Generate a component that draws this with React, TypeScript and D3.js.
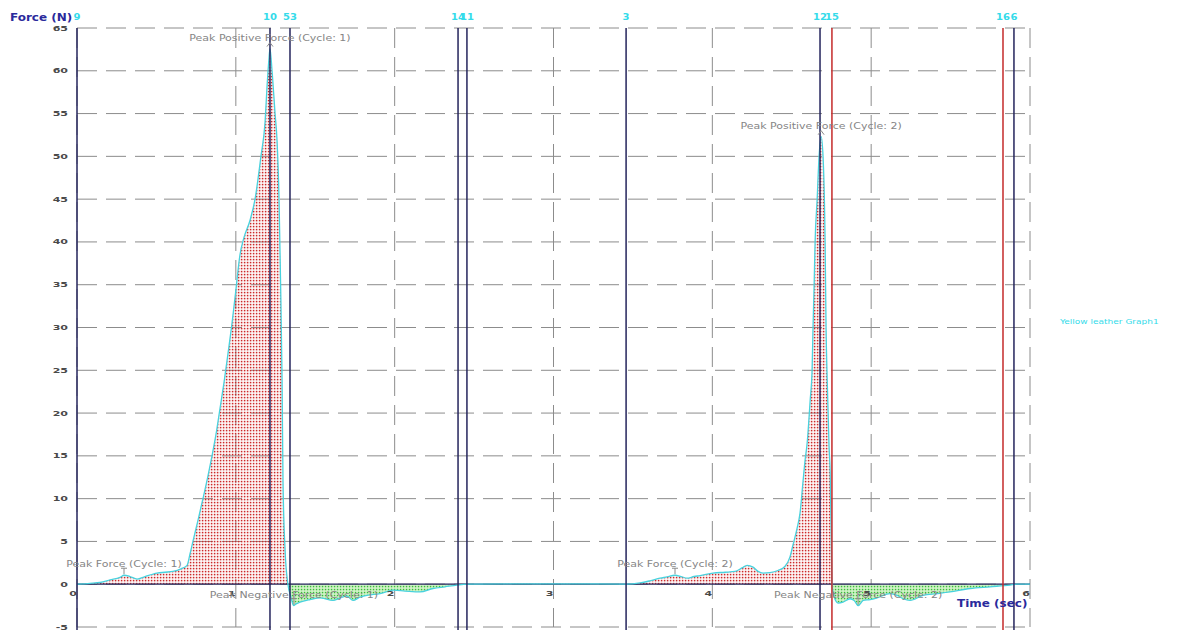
import React from "react";
import * as d3 from "d3";

// Force trace sampled over two loading cycles
const timeSec = [
  0.0, 0.082, 0.145, 0.208, 0.271, 0.296, 0.334, 0.378, 0.428, 0.504, 0.554, 0.604, 0.655, 0.693,
  0.711, 0.73, 0.762, 0.793, 0.825, 0.85, 0.875, 0.9, 0.925, 0.951, 0.976, 1.001, 1.026, 1.051,
  1.089, 1.121, 1.158, 1.184, 1.196, 1.209, 1.215, 1.228, 1.247, 1.259, 1.272, 1.281, 1.291, 1.297,
  1.31, 1.328, 1.347, 1.36, 1.366, 1.379, 1.404, 1.467, 1.53, 1.612, 1.656, 1.7, 1.738, 1.782,
  1.826, 1.908, 1.99, 2.065, 2.16, 2.241, 2.317, 2.392, 2.474, 2.8, 3.1, 3.457, 3.545, 3.608,
  3.671, 3.715, 3.765, 3.803, 3.841, 3.885, 3.923, 4.004, 4.08, 4.143, 4.187, 4.219, 4.256, 4.288,
  4.319, 4.363, 4.413, 4.458, 4.489, 4.508, 4.533, 4.552, 4.571, 4.584, 4.597, 4.616, 4.628, 4.634,
  4.641, 4.647, 4.66, 4.672, 4.685, 4.697, 4.71, 4.716, 4.723, 4.735, 4.742, 4.748, 4.754, 4.767,
  4.792, 4.823, 4.867, 4.893, 4.918, 4.95, 4.994, 5.037, 5.119, 5.163, 5.201, 5.245, 5.327, 5.415,
  5.496, 5.622, 5.748, 5.874, 5.918, 6.0,
];
const forceN = [
  0.0, 0.1, 0.2, 0.5, 0.8, 1.05, 0.9, 0.6, 0.9, 1.3, 1.4, 1.5, 1.8, 2.2,
  3.5, 5.0, 7.5, 10.0, 12.7, 15.0, 17.5, 20.5, 23.5, 27.0, 30.5, 34.5, 38.5, 40.5,
  42.5, 45.0, 50.0, 54.0, 58.0, 61.5, 62.6, 60.0, 55.0, 52.0, 45.0, 36.0, 24.0, 12.0,
  4.0, 0.0, -1.5, -2.4, -2.5, -2.3, -2.1, -1.8, -1.6, -1.9, -1.6, -1.4, -1.9, -1.5,
  -1.3, -1.1, -0.7, -0.8, -0.9, -0.5, -0.3, -0.1, 0.0, 0.05, 0.05, 0.0, 0.15, 0.4,
  0.7, 0.85, 1.05, 0.9, 0.7, 0.9, 1.0, 1.3, 1.4, 1.5, 1.9, 2.2, 2.0, 1.5,
  1.3, 1.35, 1.6, 2.1, 3.2, 4.6, 6.5, 8.3, 12.0, 14.5, 16.5, 21.5, 25.0, 30.0,
  35.0, 40.0, 45.0, 50.0, 52.3, 50.0, 40.0, 30.0, 24.0, 16.0, 13.0, 6.0, 0.0, -1.5,
  -2.2, -2.1, -1.7, -1.9, -2.5, -1.9, -1.8, -1.6, -1.1, -1.3, -1.7, -1.9, -1.3, -1.1,
  -0.9, -0.5, -0.3, -0.1, 0.0, 0.0,
];

// Axis ticks
const yTicks = [-5, 0, 5, 10, 15, 20, 25, 30, 35, 40, 45, 50, 55, 60, 65];
const xTicks = [0, 1, 2, 3, 4, 5, 6];

// Cycle cursors: time, label and whether it is a limit (red) cursor
const cursorTimes = [0, 1.215, 1.341, 2.399, 2.455, 3.457, 4.678, 4.753, 5.83, 5.899];
const cursorLabels = ["9", "10", "53", "14", "11", "3", "12", "15", "16", "6"];
const cursorIsLimit = [false, false, false, false, false, false, false, true, true, false];

// Peak annotations
const peakNames = [
  "Peak Force (Cycle: 1)",
  "Peak Positive Force (Cycle: 1)",
  "Peak Negative Force (Cycle: 1)",
  "Peak Force (Cycle: 2)",
  "Peak Positive Force (Cycle: 2)",
  "Peak Negative Force (Cycle: 2)",
];
const peakTimes = [0.296, 1.215, 1.366, 3.765, 4.685, 4.918];
const peakKinds = ["force", "positive", "negative", "force", "positive", "negative"];

const seriesName = "Yellow leather Graph1";

const W = 1194;
const H = 630;
const FONT = "'DejaVu Sans', Verdana, sans-serif";

const NAVY = "#24245c";
const RED = "#c42a2a";
const CYAN = "#48d2de";
const LABEL_CYAN = "#33dbea";
const GRID = "#8c8c8c";

function SText(props: {
  x: number;
  y: number;
  sy?: number;
  anchor?: "start" | "middle" | "end";
  size: number;
  weight?: string | number;
  fill: string;
  children: React.ReactNode;
}) {
  const { x, y, sy = 1, anchor = "start", size, weight = "normal", fill, children } = props;
  return (
    <text
      transform={`translate(${x},${y}) scale(1,${sy})`}
      textAnchor={anchor}
      fontSize={size}
      fontWeight={weight}
      fill={fill}
      fontFamily={FONT}
    >
      {children}
    </text>
  );
}

export default function App() {
  const x = d3.scaleLinear().domain([0, 6]).range([77, 1030]);
  const y = d3.scaleLinear().domain([-5, 65]).range([627, 28]);
  const [x0, x1] = x.range();
  const yTop = y(65);
  const yBot = y(-5);
  const y0 = y(0);

  const pts: [number, number][] = timeSec.map((t, i) => [t, forceN[i]]);
  const curve = d3.curveMonotoneX;
  const line = d3
    .line<[number, number]>()
    .x((d) => x(d[0]))
    .y((d) => y(d[1]))
    .curve(curve);
  const area = d3
    .area<[number, number]>()
    .x((d) => x(d[0]))
    .y0(y0)
    .y1((d) => y(d[1]))
    .curve(curve);

  const dash = "20,9";

  return (
    <svg
      width={W}
      height={H}
      style={{ position: "absolute", left: 0, top: 0, display: "block", background: "#fff" }}
    >
      <defs>
        <pattern id="posDots" width={3} height={3} patternUnits="userSpaceOnUse">
          <rect x={0.8} y={0.8} width={1.6} height={1.6} fill="#cc2a2a" />
        </pattern>
        <pattern id="negDots" width={3} height={3} patternUnits="userSpaceOnUse">
          <rect x={0} y={0} width={3} height={3} fill="#d6f6cc" />
          <rect x={0.8} y={0.8} width={1.5} height={1.5} fill="#3cbc3c" />
        </pattern>
        <clipPath id="clipPos">
          <rect x={x0} y={yTop} width={x1 - x0} height={y0 - yTop} />
        </clipPath>
        <clipPath id="clipNeg">
          <rect x={x0} y={y0} width={x1 - x0} height={yBot - y0} />
        </clipPath>
      </defs>

      {/* dashed grid */}
      {yTicks.map((v) => (
        <line key={`gy${v}`} x1={x0} x2={x1} y1={y(v)} y2={y(v)} stroke={GRID} strokeWidth={1} strokeDasharray={dash} />
      ))}
      {xTicks.map((v) => (
        <line key={`gx${v}`} x1={x(v)} x2={x(v)} y1={yTop} y2={yBot} stroke={GRID} strokeWidth={1} strokeDasharray={dash} />
      ))}

      {/* filled areas */}
      <path d={area(pts) ?? ""} fill="url(#posDots)" clipPath="url(#clipPos)" />
      <path d={area(pts) ?? ""} fill="url(#negDots)" clipPath="url(#clipNeg)" />

      {/* zero line */}
      <line x1={x0} x2={x1} y1={y0} y2={y0} stroke={NAVY} strokeWidth={1.2} />

      {/* force trace */}
      <path d={line(pts) ?? ""} fill="none" stroke={CYAN} strokeWidth={1.3} />

      {/* cursors */}
      {cursorTimes.map((t, i) => (
        <line
          key={`c${i}`}
          x1={x(t)}
          x2={x(t)}
          y1={yTop}
          y2={H}
          stroke={cursorIsLimit[i] ? RED : NAVY}
          strokeWidth={1.5}
        />
      ))}
      {cursorTimes.map((t, i) => (
        <SText key={`cl${i}`} x={x(t)} y={20} sy={0.85} anchor="middle" size={10} weight="bold" fill={LABEL_CYAN}>
          {cursorLabels[i]}
        </SText>
      ))}

      {/* tick labels */}
      {yTicks.map((v) => (
        <SText key={`ty${v}`} x={x0 - 9} y={y(v) + 2.5} sy={0.62} anchor="end" size={11} weight="bold" fill="#4a4a4a">
          {v}
        </SText>
      ))}
      {xTicks.map((v) => (
        <SText key={`tx${v}`} x={x(v) - 4} y={595.5} sy={0.62} anchor="middle" size={11} weight="bold" fill="#4a4a4a">
          {v}
        </SText>
      ))}

      {/* peak annotations */}
      {peakNames.map((name, i) => {
        const idx = timeSec.indexOf(peakTimes[i]);
        const px = x(timeSec[idx]);
        const py = y(forceN[idx]);
        const marker =
          peakKinds[i] === "positive" ? (
            <path d={`M${px - 3},${py - 2} L${px},${py - 6} L${px + 3},${py - 2}`} fill="none" stroke="#8a8a8a" strokeWidth={1} />
          ) : (
            <path d={`M${px - 3},${py - 7} L${px + 3},${py - 7} M${px},${py - 7} L${px},${py - 1}`} fill="none" stroke="#8a8a8a" strokeWidth={1} />
          );
        return (
          <g key={`pk${i}`}>
            {marker}
            <SText x={px} y={py - 8} sy={0.85} anchor="middle" size={11} fill="#858585">
              {name}
            </SText>
          </g>
        );
      })}

      {/* axis titles */}
      <SText x={10} y={21} sy={0.85} size={12} weight="bold" fill="#2a2a9c">
        Force (N)
      </SText>
      <SText x={957} y={607} sy={0.85} size={12} weight="bold" fill="#2a2a9c">
        Time (sec)
      </SText>

      {/* series name */}
      <SText x={1060} y={324} sy={0.85} size={9} fill={LABEL_CYAN}>
        {seriesName}
      </SText>
    </svg>
  );
}
